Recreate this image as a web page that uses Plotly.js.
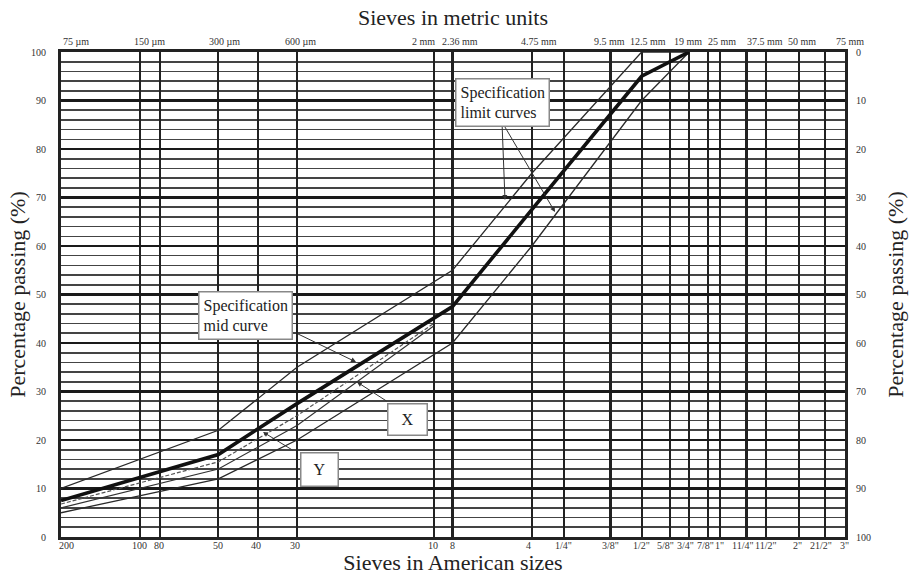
<!DOCTYPE html>
<html><head><meta charset="utf-8">
<script src="https://cdn.plot.ly/plotly-3.0.1.min.js"></script>
<style>html,body{margin:0;padding:0;background:#fff}#chart{width:912px;height:581px}</style>
</head><body><div id="chart"></div>
<script>
// ---- data ----
const specSieveMm = [0.075, 0.3, 0.6, 2.36, 4.75, 12.5, 19];
const upperLimit  = [10, 22, 35, 55, 75, 100, 100];
const lowerLimit  = [5, 12, 20, 40, 60, 90, 100];
const midCurve    = [7.5, 17, 27.5, 47.5, 67.5, 95, 100];

const sampleSieveMm = [0.075, 0.3, 0.6, 2.0];
const sampleX = [6, 14, 23, 43.5];
const sampleY = [6.8, 15.5, 25, 44];

const americanVals = [0.075, 0.15, 0.18, 0.3, 0.425, 0.6, 2.0, 2.36, 4.75, 6.3, 9.5, 12.5, 16, 19, 22.4, 25, 31.5, 37.5, 50, 63, 75];
const americanText = ['200', '100', '80', '50', '40', '30', '10', '8', '4', '1/4"', '3/8"', '1/2"', '5/8"', '3/4"', '7/8"', '1"', '11/4"', '11/2"', '2"', '21/2"', '3"'];
const metricVals = [0.075, 0.15, 0.3, 0.6, 2, 2.36, 4.75, 9.5, 12.5, 19, 25, 37.5, 50, 75];
const metricText = ['75 µm', '150 µm', '300 µm', '600 µm', '2 mm', '2.36 mm', '4.75 mm', '9.5 mm', '12.5 mm', '19 mm', '25 mm', '37.5 mm', '50 mm', '75 mm'];
const passingTicks = [0, 10, 20, 30, 40, 50, 60, 70, 80, 90, 100];

// ---- label pixel nudges (as printed on the original sheet) ----
const americanShift = [5, 0, -1, 0, -2, -2, -1, 0, -3, 0, 0, 0, -4, -4, -2, -1, -4, 0, -1, -4, -1];
const metricShift = [15, 10, 6, 3, -10, 8, 7, -1, 6, -1, 2, -1, 3, 5];

// ---- layout helpers ----
const W = 912, H = 581;
const PL = 61, PR = 845, PT = 52, PB = 537;
const px = x => (x - PL) / (PR - PL);
const py = y => (PB - y) / (PB - PT);
const FONT = "'Liberation Serif', 'Times New Roman', serif";
const xr = [Math.log10(0.075), Math.log10(75)];

const traces = [
  {x: specSieveMm, y: upperLimit, mode: 'lines', line: {color: '#2a2a2a', width: 1.3}, hoverinfo: 'skip'},
  {x: specSieveMm, y: lowerLimit, mode: 'lines', line: {color: '#2a2a2a', width: 1.3}, hoverinfo: 'skip'},
  {x: sampleSieveMm, y: sampleX, mode: 'lines', line: {color: '#333', width: 1.1}, hoverinfo: 'skip'},
  {x: sampleSieveMm, y: sampleY, mode: 'lines', line: {color: '#555', width: 1.2, dash: '4px,2px'}, hoverinfo: 'skip'},
  {x: specSieveMm, y: midCurve, mode: 'lines', line: {color: '#111', width: 3.6}, hoverinfo: 'skip'},
  // carrier for the metric (top) and retained (right) axes
  {x: specSieveMm, y: midCurve.map(v => 100 - v), xaxis: 'x2', yaxis: 'y2', mode: 'lines', opacity: 0, line: {width: 0}, hoverinfo: 'skip'}
];

const tickFont = {family: FONT, size: 10, color: '#333'};
const titleFont = {family: FONT, size: 22, color: '#222'};

const arrowBase = {xref: 'paper', yref: 'paper', text: '', showarrow: true, arrowhead: 2, arrowsize: 1, arrowwidth: 1, arrowcolor: '#333'};
const boxBase = {xref: 'paper', yref: 'paper', xanchor: 'center', yanchor: 'middle', showarrow: false, bgcolor: '#fff', bordercolor: '#888', borderwidth: 1.5, font: {family: FONT, size: 16, color: '#222'}};

const sieveLabels = [];
americanVals.forEach((v, i) => sieveLabels.push({
  xref: 'x', yref: 'paper', x: Math.log10(v), y: 0, xanchor: 'center', yanchor: 'top', yshift: -1, xshift: americanShift[i],
  text: americanText[i], showarrow: false, font: tickFont
}));
metricVals.forEach((v, i) => sieveLabels.push({
  xref: 'x', yref: 'paper', x: Math.log10(v), y: 1, xanchor: 'center', yanchor: 'bottom', yshift: 3, xshift: metricShift[i],
  text: metricText[i], showarrow: false, font: tickFont
}));

const layout = {
  width: W, height: H,
  margin: {l: PL, r: W - PR, t: PT, b: H - PB, pad: 0},
  paper_bgcolor: '#fff', plot_bgcolor: '#fff',
  showlegend: false,
  font: {family: FONT},
  xaxis: {
    type: 'log', range: xr, tickmode: 'array', tickvals: americanVals, showticklabels: false, ticks: '',
    showgrid: true, gridcolor: '#222', gridwidth: 2.2,
    showline: true, mirror: true, linecolor: '#222', linewidth: 3, zeroline: false,
    title: {text: 'Sieves in American sizes', font: titleFont, standoff: 16}
  },
  xaxis2: {
    type: 'log', range: xr, overlaying: 'x', side: 'top', tickmode: 'array', tickvals: metricVals, showticklabels: false, ticks: '',
    showgrid: false, showline: false, zeroline: false,
    title: {text: 'Sieves in metric units', font: titleFont, standoff: 19}
  },
  yaxis: {
    range: [0, 100], tickmode: 'array', tickvals: passingTicks, ticks: '', ticklabelstandoff: 10, tickfont: tickFont,
    showgrid: true, gridcolor: '#1a1a1a', gridwidth: 2.6,
    minor: {dtick: 2, showgrid: true, gridcolor: '#444', gridwidth: 1.6},
    showline: true, mirror: true, linecolor: '#222', linewidth: 3, zeroline: false,
    title: {text: 'Percentage passing (%)', font: titleFont, standoff: 0}
  },
  yaxis2: {
    range: [100, 0], overlaying: 'y', side: 'right', tickmode: 'array', tickvals: passingTicks, ticks: '', ticklabelstandoff: 10,
    tickfont: tickFont, showgrid: false, showline: false, zeroline: false,
    title: {text: 'Percentage passing (%)', font: titleFont, standoff: 17}
  },
  annotations: sieveLabels.concat([
    Object.assign({x: px(505), y: py(200), ax: -3, ay: -78}, arrowBase),
    Object.assign({x: px(555), y: py(212), ax: -53, ay: -90}, arrowBase),
    Object.assign({x: px(356), y: py(362), ax: -60, ay: -29}, arrowBase),
    Object.assign({x: px(357), y: py(382), ax: 31, ay: 20}, arrowBase),
    Object.assign({x: px(263), y: py(432), ax: 31, ay: 19}, arrowBase),
    Object.assign({x: px(502), y: py(103), text: 'Specification<br>limit curves', align: 'left', borderpad: 4}, boxBase),
    Object.assign({x: px(245.5), y: py(315), text: 'Specification<br>mid curve', align: 'left', borderpad: 4}, boxBase),
    Object.assign({x: px(407), y: py(419), text: 'X', width: 36, height: 28, borderpad: 1}, boxBase),
    Object.assign({x: px(319), y: py(469), text: 'Y', width: 34, height: 30, borderpad: 1}, boxBase)
  ])
};

Plotly.newPlot('chart', traces, layout, {staticPlot: true, displayModeBar: false});
</script></body></html>
